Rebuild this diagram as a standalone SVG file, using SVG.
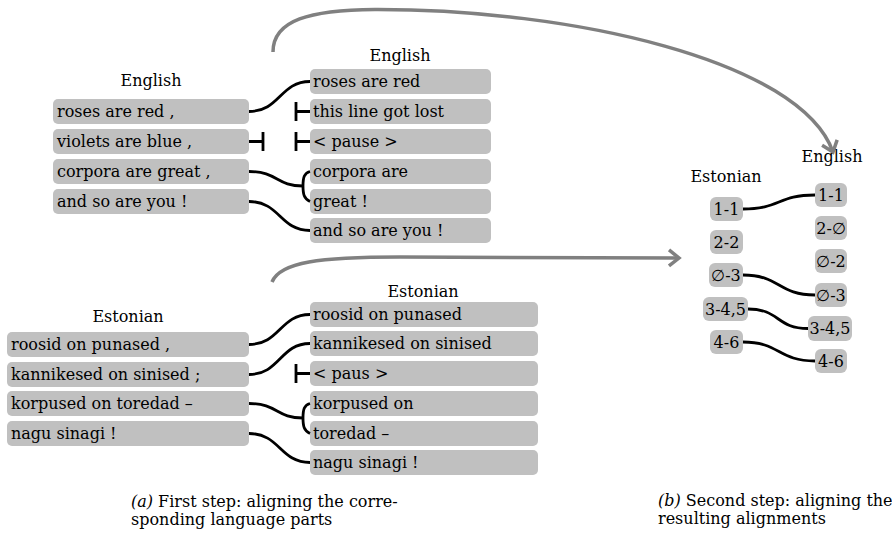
<svg xmlns="http://www.w3.org/2000/svg" width="892" height="536" viewBox="0 0 892 536">
<style>
.box{fill:#c0c0c0}
.t{font-family:"DejaVu Serif","Liberation Serif",serif;font-size:16px;fill:#000}
.m{text-anchor:middle}
.c{fill:none;stroke:#000;stroke-width:2.8}
.a{fill:none;stroke:#808080;stroke-width:3.5}
.ah{fill:none;stroke:#808080;stroke-width:3.5;stroke-linejoin:miter}
</style>
<defs>
<marker id="chev" markerUnits="userSpaceOnUse" markerWidth="30" markerHeight="30" viewBox="-15 -15 30 30" refX="0" refY="0" orient="auto">
<path class="ah" d="M-10,-8 L0,0 L-10,8"/>
</marker>
</defs>
<rect width="892" height="536" fill="#fff"/>

<!-- top-left English -->
<g id="en-src">
<text class="t m" x="151" y="86">English</text>
<g id="en-src-1"><rect class="box" x="53" y="99" width="196" height="25" rx="5"/><text class="t" x="57" y="117">roses are red ,</text></g>
<g id="en-src-2"><rect class="box" x="53" y="129" width="196" height="25" rx="5"/><text class="t" x="57" y="147">violets are blue ,</text></g>
<g id="en-src-3"><rect class="box" x="53" y="159" width="196" height="25" rx="5"/><text class="t" x="57" y="177">corpora are great ,</text></g>
<g id="en-src-4"><rect class="box" x="53" y="189" width="196" height="25" rx="5"/><text class="t" x="57" y="207">and so are you !</text></g>
</g>

<!-- top-right English -->
<g id="en-tgt">
<text class="t m" x="400" y="61">English</text>
<g id="en-tgt-1"><rect class="box" x="310" y="69" width="181" height="25" rx="5"/><text class="t" x="313" y="87">roses are red</text></g>
<g id="en-tgt-2"><rect class="box" x="310" y="99" width="181" height="25" rx="5"/><text class="t" x="313" y="117">this line got lost</text></g>
<g id="en-tgt-3"><rect class="box" x="310" y="129" width="181" height="25" rx="5"/><text class="t" x="313" y="147">&lt; pause &gt;</text></g>
<g id="en-tgt-4"><rect class="box" x="310" y="159" width="181" height="25" rx="5"/><text class="t" x="313" y="177">corpora are</text></g>
<g id="en-tgt-5"><rect class="box" x="310" y="189" width="181" height="25" rx="5"/><text class="t" x="313" y="207">great !</text></g>
<g id="en-tgt-6"><rect class="box" x="310" y="218" width="181" height="25" rx="5"/><text class="t" x="313" y="236">and so are you !</text></g>
</g>

<!-- bottom-left Estonian -->
<g id="et-src">
<text class="t m" x="128" y="322">Estonian</text>
<g id="et-src-1"><rect class="box" x="7" y="332" width="242" height="25" rx="5"/><text class="t" x="11" y="350">roosid on punased ,</text></g>
<g id="et-src-2"><rect class="box" x="7" y="362" width="242" height="25" rx="5"/><text class="t" x="11" y="380">kannikesed on sinised ;</text></g>
<g id="et-src-3"><rect class="box" x="7" y="391" width="242" height="25" rx="5"/><text class="t" x="11" y="409">korpused on toredad –</text></g>
<g id="et-src-4"><rect class="box" x="7" y="421" width="242" height="25" rx="5"/><text class="t" x="11" y="439">nagu sinagi !</text></g>
</g>

<!-- bottom-right Estonian -->
<g id="et-tgt">
<text class="t m" x="423" y="297">Estonian</text>
<g id="et-tgt-1"><rect class="box" x="310" y="302" width="228" height="25" rx="5"/><text class="t" x="313" y="320">roosid on punased</text></g>
<g id="et-tgt-2"><rect class="box" x="310" y="331" width="228" height="25" rx="5"/><text class="t" x="313" y="349">kannikesed on sinised</text></g>
<g id="et-tgt-3"><rect class="box" x="310" y="361" width="228" height="25" rx="5"/><text class="t" x="313" y="379">&lt; paus &gt;</text></g>
<g id="et-tgt-4"><rect class="box" x="310" y="391" width="228" height="25" rx="5"/><text class="t" x="313" y="409">korpused on</text></g>
<g id="et-tgt-5"><rect class="box" x="310" y="421" width="228" height="25" rx="5"/><text class="t" x="313" y="439">toredad –</text></g>
<g id="et-tgt-6"><rect class="box" x="310" y="450" width="228" height="25" rx="5"/><text class="t" x="313" y="468">nagu sinagi !</text></g>
</g>

<!-- right panel -->
<g id="rp-et">
<text class="t m" x="726" y="182">Estonian</text>
<g id="rp-et-1"><rect class="box" x="710" y="197" width="33" height="24" rx="6"/><text class="t m" x="726.5" y="214.5">1-1</text></g>
<g id="rp-et-2"><rect class="box" x="710" y="230" width="33" height="24" rx="6"/><text class="t m" x="726.5" y="247.5">2-2</text></g>
<g id="rp-et-3"><rect class="box" x="709" y="263" width="34" height="24" rx="6"/><text class="t m" x="726" y="280.5">∅-3</text></g>
<g id="rp-et-4"><rect class="box" x="703" y="297" width="45" height="24" rx="6"/><text class="t m" x="725.5" y="314.5">3-4,5</text></g>
<g id="rp-et-5"><rect class="box" x="710" y="330" width="33" height="24" rx="6"/><text class="t m" x="726.5" y="347.5">4-6</text></g>
</g>
<g id="rp-en">
<text class="t m" x="832" y="162">English</text>
<g id="rp-en-1"><rect class="box" x="815" y="183" width="32" height="24" rx="6"/><text class="t m" x="831" y="200.5">1-1</text></g>
<g id="rp-en-2"><rect class="box" x="815" y="216" width="32" height="24" rx="6"/><text class="t m" x="831" y="233.5">2-∅</text></g>
<g id="rp-en-3"><rect class="box" x="815" y="249" width="32" height="24" rx="6"/><text class="t m" x="831" y="266.5">∅-2</text></g>
<g id="rp-en-4"><rect class="box" x="815" y="283" width="32" height="24" rx="6"/><text class="t m" x="831" y="300.5">∅-3</text></g>
<g id="rp-en-5"><rect class="box" x="808" y="316" width="44" height="25" rx="6"/><text class="t m" x="830" y="334">3-4,5</text></g>
<g id="rp-en-6"><rect class="box" x="815" y="349" width="32" height="24" rx="6"/><text class="t m" x="831" y="366.5">4-6</text></g>
</g>

<!-- connectors -->
<g id="connectors">
<path class="c" d="M249,111.5 C280,111.5 280,81.5 310,81.5"/>
<path class="c" d="M249,141.5 H263 M263,132 V151"/>
<path class="c" d="M310,111.5 H296 M296,102 V121"/>
<path class="c" d="M310,141.5 H296 M296,132 V151"/>
<path class="c" d="M249,171.5 C278,171.5 276,186 303,186"/>
<path class="c" d="M310,171.5 C304,173 303,178 303,186 C303,194 304,199 310,201.5"/>
<path class="c" d="M249,201.5 C280,201.5 280,230.5 310,230.5"/>

<path class="c" d="M249,344.5 C280,344.5 280,314.5 310,314.5"/>
<path class="c" d="M249,374.5 C280,374.5 280,343.5 310,343.5"/>
<path class="c" d="M310,373.5 H296 M296,364 V383"/>
<path class="c" d="M249,403.5 C278,403.5 276,418 303,418"/>
<path class="c" d="M310,403.5 C304,405 303,410 303,418 C303,426 304,431 310,433.5"/>
<path class="c" d="M249,433.5 C280,433.5 280,462.5 310,462.5"/>

<path class="c" d="M743,209 C780,209 778,195 815,195"/>
<path class="c" d="M743,275 C780,275 778,295 815,295"/>
<path class="c" d="M748,309 C780,309 776,328.5 808,328.5"/>
<path class="c" d="M743,342 C780,342 778,361 815,361"/>

<path class="a" d="M273,52 C273,20 310,10 375,9.5 C570,9 800,60 833,152" marker-end="url(#chev)"/>
<path class="a" d="M272,282 C280,262 320,257 400,257 L679,258" marker-end="url(#chev)"/>
</g>

<!-- captions -->
<g id="caption-a">
<text class="t" x="131" y="507"><tspan font-style="italic">(a)</tspan> First step: aligning the corre-</text>
<text class="t" x="131" y="525">sponding language parts</text>
</g>
<g id="caption-b">
<text class="t" x="658" y="506"><tspan font-style="italic">(b)</tspan> Second step: aligning the</text>
<text class="t" x="658" y="524">resulting alignments</text>
</g>
</svg>
